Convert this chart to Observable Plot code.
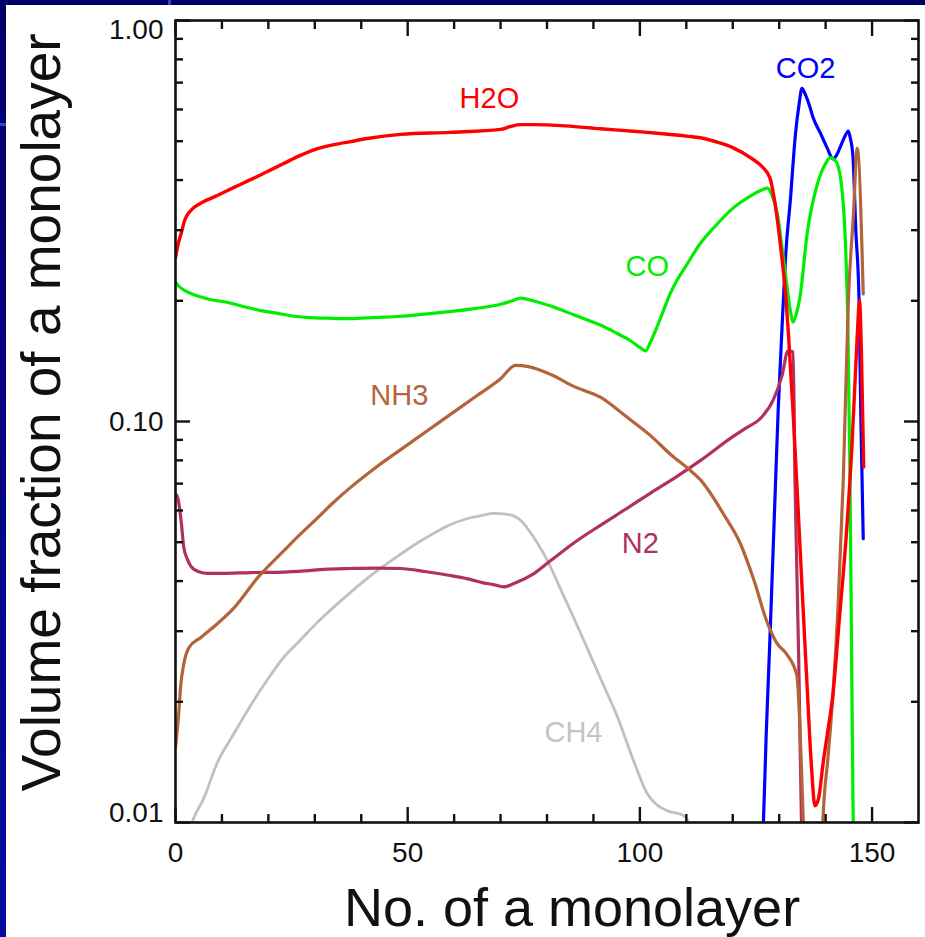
<!DOCTYPE html>
<html>
<head>
<meta charset="utf-8">
<script src="https://cdn.jsdelivr.net/npm/d3@7"></script>
<script src="https://cdn.jsdelivr.net/npm/@observablehq/plot@0.6"></script>
<style>
  html, body { margin: 0; padding: 0; }
  body { width: 925px; height: 937px; position: relative; overflow: hidden; background: #000068; }
  #stripLeft { position: absolute; left: 0; top: 0; width: 6px; height: 937px; background: linear-gradient(#000068, #0a0aa2); }
  #panel { position: absolute; left: 6px; top: 5px; right: 0; bottom: 0; background: #ffffff; }
  #accentTop { position: absolute; left: 168px; top: 0; width: 3px; height: 5px; background: #2a44d0; }
  #accentLeft { position: absolute; left: 0; top: 123px; width: 6px; height: 3px; background: #2a44d0; }
  #chart { position: absolute; left: 0; top: 0; }
</style>
</head>
<body>
<div id="stripLeft"></div>
<div id="accentTop"></div>
<div id="accentLeft"></div>
<div id="panel"></div>
<div id="chart"></div>
<script>
// Volume fraction of each ice species against monolayer number (log scale)

// H2O
const h2oN = [0, 0.5, 1.2, 2, 3.3, 5.4, 9, 12.5, 16.2, 19.8, 23.3, 26.9, 30.6, 34, 37.7, 41.3, 48.5, 59.2, 70, 72.1, 74.3, 77, 84, 91.5, 100, 105, 110, 113, 117, 120, 123.8, 126.5, 128, 129, 130.4, 131.5, 132, 133, 134, 135, 136, 137, 137.7, 138.5, 139.4, 140.5, 141.6, 142.9, 144.5, 145.7, 146.8, 147.3, 147.7, 148.2];
const h2oV = [0.256, 0.275, 0.294, 0.318, 0.336, 0.35, 0.366, 0.383, 0.401, 0.42, 0.44, 0.461, 0.479, 0.49, 0.499, 0.508, 0.52, 0.526, 0.535, 0.544, 0.55, 0.55, 0.546, 0.537, 0.528, 0.522, 0.515, 0.51, 0.496, 0.482, 0.455, 0.43, 0.405, 0.356, 0.267, 0.2, 0.165, 0.105, 0.063, 0.037, 0.022, 0.0135, 0.011, 0.0115, 0.0139, 0.017, 0.021, 0.0316, 0.053, 0.088, 0.163, 0.2, 0.15, 0.077];

// CO
const coN = [0, 1, 2, 4, 7, 11.3, 15, 18.4, 22, 25.5, 29, 32.7, 36, 40, 45, 48.5, 53, 59, 64, 70, 72.5, 74.3, 77, 80.8, 86, 91.5, 95, 98, 100, 101.2, 102.3, 103.5, 105, 106.5, 108, 110, 113, 116, 120, 123, 126.5, 127.5, 128.3, 129.6, 130.7, 131.8, 132.5, 133, 133.6, 134.5, 136, 138.2, 140, 141, 142, 142.5, 143.5, 144.2, 144.8, 145.2, 145.5, 145.9, 146.1];
const coV = [0.222, 0.216, 0.212, 0.207, 0.202, 0.198, 0.193, 0.189, 0.186, 0.183, 0.1815, 0.181, 0.1805, 0.181, 0.182, 0.183, 0.185, 0.188, 0.191, 0.196, 0.2, 0.203, 0.2, 0.194, 0.184, 0.174, 0.166, 0.159, 0.153, 0.15, 0.158, 0.17, 0.188, 0.208, 0.225, 0.245, 0.278, 0.305, 0.34, 0.36, 0.379, 0.382, 0.37, 0.33, 0.267, 0.212, 0.186, 0.177, 0.184, 0.205, 0.293, 0.39, 0.44, 0.455, 0.448, 0.44, 0.38, 0.29, 0.17, 0.08, 0.035, 0.011, 0.008];

// CO2
const co2N = [126.2, 126.6, 127.2, 128, 129, 129.8, 130.9, 131.4, 132.4, 133.5, 134.3, 134.9, 135.6, 136.5, 137.3, 139, 140.3, 141.6, 142.3, 143.1, 144, 144.9, 145.3, 145.9, 146.5, 147.2, 147.6, 148.1];
const co2V = [0.008, 0.01, 0.0165, 0.0286, 0.06, 0.108, 0.2, 0.26, 0.356, 0.52, 0.62, 0.677, 0.655, 0.615, 0.573, 0.52, 0.482, 0.452, 0.46, 0.482, 0.51, 0.53, 0.51, 0.455, 0.3, 0.2, 0.1, 0.051];

// NH3
const nh3N = [0, 0.7, 1.1, 1.8, 2.9, 5.4, 9, 12.6, 17.7, 23.4, 27, 30.6, 34, 37.7, 43, 48.5, 54, 59.2, 64.5, 70, 73.2, 76, 80.8, 86, 91.5, 97, 102.3, 106.5, 110.9, 113, 118, 121.6, 124.5, 127.4, 129.5, 131.6, 133.8, 134.5, 135.2, 135.8, 138.8, 139.4, 140.5, 141.6, 142.7, 143.8, 144.9, 146, 146.8, 148.1];
const nh3V = [0.0154, 0.0187, 0.0218, 0.0249, 0.0273, 0.0289, 0.0313, 0.0343, 0.0408, 0.0477, 0.0525, 0.0575, 0.0628, 0.0685, 0.0766, 0.0851, 0.0944, 0.1042, 0.1151, 0.1278, 0.138, 0.137, 0.131, 0.122, 0.115, 0.103, 0.0922, 0.083, 0.0754, 0.0716, 0.0588, 0.0497, 0.0404, 0.0316, 0.028, 0.0263, 0.0233, 0.017, 0.01, 0.006, 0.006, 0.01, 0.0145, 0.021, 0.035, 0.0716, 0.2, 0.33, 0.48, 0.208];

// N2
const n2N = [0, 0.5, 1.2, 1.8, 2.5, 3.3, 5, 7, 10, 16.2, 23.4, 28, 32, 37.7, 43, 48.5, 54, 59.2, 63, 66.3, 68.5, 70.7, 73, 77.1, 80.8, 86, 91.5, 97, 102.3, 108, 113, 120.1, 123, 125.9, 128.7, 130.6, 131.9, 133, 133.4, 134.2, 134.8, 135.2];
const n2V = [0.066, 0.0645, 0.0567, 0.0484, 0.0455, 0.0436, 0.0422, 0.0418, 0.0418, 0.042, 0.0421, 0.0424, 0.0428, 0.043, 0.0431, 0.043, 0.0422, 0.0413, 0.0405, 0.0396, 0.0392, 0.0387, 0.0395, 0.0417, 0.045, 0.05, 0.0551, 0.0605, 0.0663, 0.073, 0.0799, 0.0918, 0.0965, 0.1016, 0.113, 0.13, 0.15, 0.149, 0.0716, 0.0258, 0.01, 0.007];

// CH4
const ch4N = [3.2, 3.7, 6.1, 9, 12.5, 16.2, 20, 23.4, 27, 30.6, 34, 37.7, 43, 48.5, 52, 55.6, 59, 62.9, 66, 68.5, 71.5, 74.3, 77.1, 80.8, 83, 85.7, 88.5, 91.5, 95.2, 98.6, 101.6, 103.5, 105.9, 109.4, 111, 113];
const ch4V = [0.0097, 0.0101, 0.0115, 0.0141, 0.0166, 0.0196, 0.0229, 0.0259, 0.0286, 0.0316, 0.0344, 0.0375, 0.0421, 0.0467, 0.0497, 0.0526, 0.0552, 0.0573, 0.0583, 0.059, 0.0587, 0.0567, 0.0515, 0.0433, 0.038, 0.0325, 0.0275, 0.0229, 0.0183, 0.0143, 0.0118, 0.0111, 0.0107, 0.0104, 0.0099, 0.0095];

// Curve labels
const labelNames  = ["H2O", "CO2", "CO", "NH3", "N2", "CH4"];
const labelX      = [67.6, 135.7, 101.6, 48.2, 100.1, 85.7];
const labelY      = [0.637, 0.759, 0.2435, 0.1161, 0.0496, 0.01677];
const labelColors = ["#ff0000", "#0000ff", "#00ee00", "#b4643a", "#b03060", "#c4c4c4"];

// Axis ticks
const xMajorTicks = [0, 50, 100, 150];
const xTickLabels = ["0", "50", "100", "150"];
const xMinorTicks = [10, 20, 30, 40, 60, 70, 80, 90, 110, 120, 130, 140];
const yMajorTicks = [0.01, 0.1, 1];
const yTickLabels = ["0.01", "0.10", "1.00"];
const yMinorTicks = [0.02, 0.03, 0.04, 0.05, 0.06, 0.07, 0.08, 0.09, 0.2, 0.3, 0.4, 0.5, 0.6, 0.7, 0.8, 0.9];

const xTitle = "No. of a monolayer";
const yTitle = "Volume fraction of a monolayer";

const series = [
  {n: ch4N, v: ch4V, color: "#c0c0c0", width: 2.8},
  {n: co2N, v: co2V, color: "#0000ff", width: 3.2},
  {n: coN,  v: coV,  color: "#00ee00", width: 3.2},
  {n: n2N,  v: n2V,  color: "#b03060", width: 3.2},
  {n: nh3N, v: nh3V, color: "#b4643a", width: 3.2},
  {n: h2oN, v: h2oV, color: "#ff0000", width: 3.4}
];

const lineMarks = series.map(s =>
  Plot.line(s.n.map((n, i) => ({n, v: s.v[i]})), {
    x: "n", y: "v", stroke: s.color, strokeWidth: s.width,
    curve: "monotone-x", clip: true
  })
);

const labels = labelNames.map((name, i) => ({name, x: labelX[i], y: labelY[i], color: labelColors[i]}));

const tickStyle = {strokeWidth: 2.4, stroke: "#111", tickFormat: () => "", label: null};
const fontFamily = "Helvetica, Arial, 'Liberation Sans', sans-serif";

const chart = Plot.plot({
  width: 925,
  height: 937,
  marginLeft: 175,
  marginRight: 7,
  marginTop: 20,
  marginBottom: 115,
  style: {background: "transparent", fontFamily, color: "#111", overflow: "visible"},
  x: {domain: [0, 160]},
  y: {type: "log", domain: [0.01, 1]},
  color: {type: "identity"},
  marks: [
    ...lineMarks,
    Plot.text(labels, {x: "x", y: "y", text: "name", fill: "color", fontSize: 29}),

    // inward ticks on all four sides
    Plot.axisX(xMajorTicks, {anchor: "bottom", tickSize: -15, ...tickStyle}),
    Plot.axisX(xMinorTicks, {anchor: "bottom", tickSize: -8, ...tickStyle}),
    Plot.axisX(xMajorTicks, {anchor: "top", tickSize: -15, ...tickStyle}),
    Plot.axisX(xMinorTicks, {anchor: "top", tickSize: -8, ...tickStyle}),
    Plot.axisY(yMajorTicks, {anchor: "left", tickSize: -15, ...tickStyle}),
    Plot.axisY(yMinorTicks, {anchor: "left", tickSize: -8, ...tickStyle}),
    Plot.axisY(yMajorTicks, {anchor: "right", tickSize: -15, ...tickStyle}),
    Plot.axisY(yMinorTicks, {anchor: "right", tickSize: -8, ...tickStyle}),

    // tick labels
    Plot.axisX(xMajorTicks, {anchor: "bottom", tickSize: 0, tickPadding: 20, fontSize: 28,
      tickFormat: d => xTickLabels[xMajorTicks.indexOf(d)], label: null}),
    Plot.axisY([yMajorTicks[0]], {anchor: "left", tickSize: 0, tickPadding: 12, fontSize: 28, dy: -9,
      tickFormat: () => yTickLabels[0], label: null}),
    Plot.axisY([yMajorTicks[1]], {anchor: "left", tickSize: 0, tickPadding: 12, fontSize: 28, dy: 1,
      tickFormat: () => yTickLabels[1], label: null}),
    Plot.axisY([yMajorTicks[2]], {anchor: "left", tickSize: 0, tickPadding: 12, fontSize: 28, dy: 10,
      tickFormat: () => yTickLabels[2], label: null}),

    // axis titles
    Plot.text([xTitle], {text: d => d, frameAnchor: "bottom", textAnchor: "middle", dx: 25, dy: 103,
      lineAnchor: "bottom", fontSize: 54, fill: "#111"}),
    Plot.text([yTitle], {text: d => d, frameAnchor: "left", textAnchor: "middle", lineAnchor: "middle",
      dx: -133, dy: -9, rotate: -90, fontSize: 55, fill: "#111"}),

    Plot.frame({stroke: "#111", strokeWidth: 2.6})
  ]
});

document.getElementById("chart").appendChild(chart);
</script>
</body>
</html>
